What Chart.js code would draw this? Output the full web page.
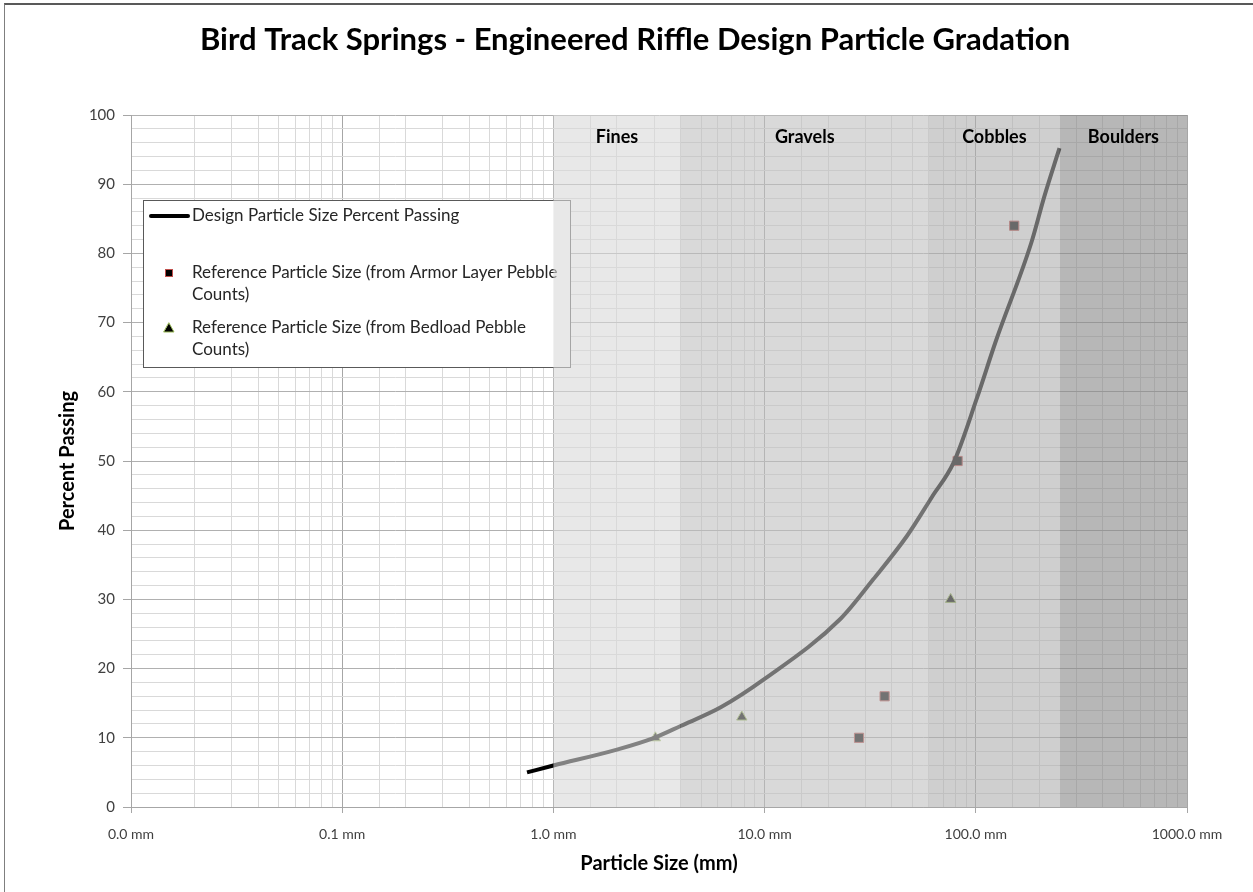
<!DOCTYPE html>
<html>
<head>
<meta charset="utf-8">
<script src="https://cdn.jsdelivr.net/npm/chart.js@4/dist/chart.umd.min.js"></script>
<style>
  html, body { margin: 0; padding: 0; background: #fff; overflow: hidden; }
  #frame {
    position: absolute; left: 4px; top: 3px;
    width: 1262px; height: 892px;
    border-left: 1px solid #7f7f7f; border-top: 2px solid #595959;
  }
  #chart { display: block; }
</style>
</head>
<body>
<div id="frame"><canvas id="chart" width="1262" height="886"></canvas></div>
<script>
const chartTitle = "Bird Track Springs - Engineered Riffle Design Particle Gradation";

// design gradation curve (mm, % passing)
const designSize = [0.75, 1, 2, 3, 4, 6.2, 10, 22.9, 32.7, 47.3, 62, 78.6, 101, 124, 183, 211, 249];
const designPassing = [5, 6, 8.3, 10, 11.7, 14.4, 18.5, 27.2, 32.9, 39.2, 44.8, 49.8, 59, 67.2, 81.5, 88.2, 95.2];

// armor layer pebble counts
const armorSize = [28, 37, 82, 152];
const armorPassing = [10, 16, 50, 84];

// bedload pebble counts
const bedloadSize = [3.04, 7.8, 76];
const bedloadPassing = [10, 13, 30];

// size class bands
const bandEdges = [1, 4, 60, 250, 1000];
const bandNames = ["Fines", "Gravels", "Cobbles", "Boulders"];
const bandFill = [
  "rgba(217,217,217,0.6)",
  "rgba(192,192,192,0.6)",
  "rgba(175,175,175,0.6)",
  "rgba(135,135,135,0.6)",
];

const legendItems = [
  { kind: "line", lines: ["Design Particle Size Percent Passing"] },
  { kind: "rect", lines: ["Reference Particle Size (from Armor Layer Pebble", "Counts)"] },
  { kind: "triangle", lines: ["Reference Particle Size (from Bedload Pebble", "Counts)"] },
];

const FONT = "Lato, 'Open Sans', sans-serif";
const zip = (xs, ys) => xs.map((x, i) => ({ x: x, y: ys[i] }));
const isDecade = (v) => Math.abs(Math.log10(v) - Math.round(Math.log10(v))) < 1e-9;

const overlayPlugin = {
  id: "overlay",
  afterDraw(chart) {
    const ctx = chart.ctx;
    const area = chart.chartArea;
    const xs = chart.scales.x;
    ctx.save();

    // title, centred on the whole chart frame
    ctx.font = "bold 31px " + FONT;
    ctx.fillStyle = "#000";
    ctx.textAlign = "center";
    ctx.textBaseline = "middle";
    ctx.fillText(chartTitle, 630, 35);

    // legend box inside the plot
    const lx = area.left + 12, ly = area.top + 85, lw = 427, lh = 167;
    ctx.fillStyle = "#fff";
    ctx.fillRect(lx, ly, lw, lh);
    ctx.strokeStyle = "#595959";
    ctx.lineWidth = 1;
    ctx.strokeRect(lx + 0.5, ly + 0.5, lw, lh);
    ctx.font = "17px " + FONT;
    ctx.textAlign = "left";
    const rowY = [ly + 16, ly + 73, ly + 128];
    legendItems.forEach((item, i) => {
      const y = rowY[i];
      if (item.kind === "line") {
        ctx.strokeStyle = "#000";
        ctx.lineWidth = 4;
        ctx.lineCap = "round";
        ctx.beginPath();
        ctx.moveTo(lx + 8, y);
        ctx.lineTo(lx + 45, y);
        ctx.stroke();
      } else if (item.kind === "rect") {
        ctx.fillStyle = "#000";
        ctx.fillRect(lx + 22, y - 4, 8, 8);
        ctx.strokeStyle = "#c0504d";
        ctx.lineWidth = 1;
        ctx.strokeRect(lx + 22.5, y - 3.5, 7, 7);
      } else {
        ctx.fillStyle = "#000";
        ctx.strokeStyle = "#9bbb59";
        ctx.lineWidth = 1;
        ctx.beginPath();
        ctx.moveTo(lx + 26, y - 5);
        ctx.lineTo(lx + 31, y + 4);
        ctx.lineTo(lx + 21, y + 4);
        ctx.closePath();
        ctx.fill();
        ctx.stroke();
      }
      ctx.fillStyle = "#262626";
      item.lines.forEach((t, j) => ctx.fillText(t, lx + 49, y + j * 22));
    });

    // translucent size-class bands over everything in the plot
    for (let i = 0; i < bandNames.length; i++) {
      const x0 = xs.getPixelForValue(bandEdges[i]);
      const x1 = xs.getPixelForValue(bandEdges[i + 1]);
      ctx.fillStyle = bandFill[i];
      ctx.fillRect(x0, area.top, x1 - x0, area.bottom - area.top);
    }
    ctx.font = "bold 18px " + FONT;
    ctx.fillStyle = "#000";
    ctx.textAlign = "center";
    for (let i = 0; i < bandNames.length; i++) {
      const x0 = xs.getPixelForValue(bandEdges[i]);
      const x1 = xs.getPixelForValue(bandEdges[i + 1]);
      ctx.fillText(bandNames[i], (x0 + x1) / 2, area.top + 22);
    }
    ctx.restore();
  },
};

new Chart(document.getElementById("chart"), {
  type: "scatter",
  data: {
    datasets: [
      {
        label: "Design Particle Size Percent Passing",
        data: zip(designSize, designPassing),
        showLine: true,
        borderColor: "#000",
        borderWidth: 4,
        pointRadius: 0,
        cubicInterpolationMode: "monotone",
      },
      {
        label: "Reference Particle Size (from Armor Layer Pebble Counts)",
        data: zip(armorSize, armorPassing),
        pointStyle: "rect",
        pointRadius: 6.5,
        backgroundColor: "#000",
        borderColor: "#c0504d",
        borderWidth: 1,
      },
      {
        label: "Reference Particle Size (from Bedload Pebble Counts)",
        data: zip(bedloadSize, bedloadPassing),
        pointStyle: "triangle",
        pointRadius: 6,
        backgroundColor: "#000",
        borderColor: "#9bbb59",
        borderWidth: 1,
      },
    ],
  },
  options: {
    responsive: false,
    animation: false,
    devicePixelRatio: 1,
    layout: { padding: { left: 0, right: 80, top: 110, bottom: 0 } },
    plugins: {
      legend: { display: false },
      tooltip: { enabled: false },
      title: { display: false },
    },
    scales: {
      x: {
        type: "logarithmic",
        min: 0.01,
        max: 1000,
        afterFit: (s) => { s.height = 84; },
        border: { color: "#a6a6a6" },
        grid: {
          color: (c) => (c.tick && isDecade(c.tick.value) ? "#a6a6a6" : "#d9d9d9"),
          tickColor: (c) => (c.tick && isDecade(c.tick.value) ? "#a6a6a6" : "rgba(0,0,0,0)"),
          tickLength: 6,
        },
        ticks: {
          autoSkip: false,
          maxRotation: 0,
          padding: 13,
          color: "#404040",
          font: { family: FONT, size: 14 },
          callback: (v) => (isDecade(v) ? Number(v).toFixed(1) + " mm" : ""),
        },
        title: {
          display: true,
          text: "Particle Size (mm)",
          color: "#000",
          font: { family: FONT, size: 20, weight: "bold" },
          padding: { top: 15, bottom: 15 },
        },
      },
      y: {
        min: 0,
        max: 100,
        afterFit: (s) => { s.width = 126; },
        border: { color: "#a6a6a6" },
        grid: {
          color: (c) => (c.tick && c.tick.value % 10 === 0 ? "#b0b0b0" : "#d9d9d9"),
          tickColor: (c) => (c.tick && c.tick.value % 10 === 0 ? "#a6a6a6" : "rgba(0,0,0,0)"),
          tickLength: 8,
        },
        ticks: {
          stepSize: 2,
          autoSkip: false,
          padding: 8,
          color: "#404040",
          font: { family: FONT, size: 15 },
          callback: (v) => (v % 10 === 0 ? v : ""),
        },
        title: {
          display: true,
          text: "Percent Passing",
          color: "#000",
          font: { family: FONT, size: 20, weight: "bold" },
          padding: { top: 51, bottom: 51 },
        },
      },
    },
  },
  plugins: [overlayPlugin],
});
</script>
</body>
</html>
